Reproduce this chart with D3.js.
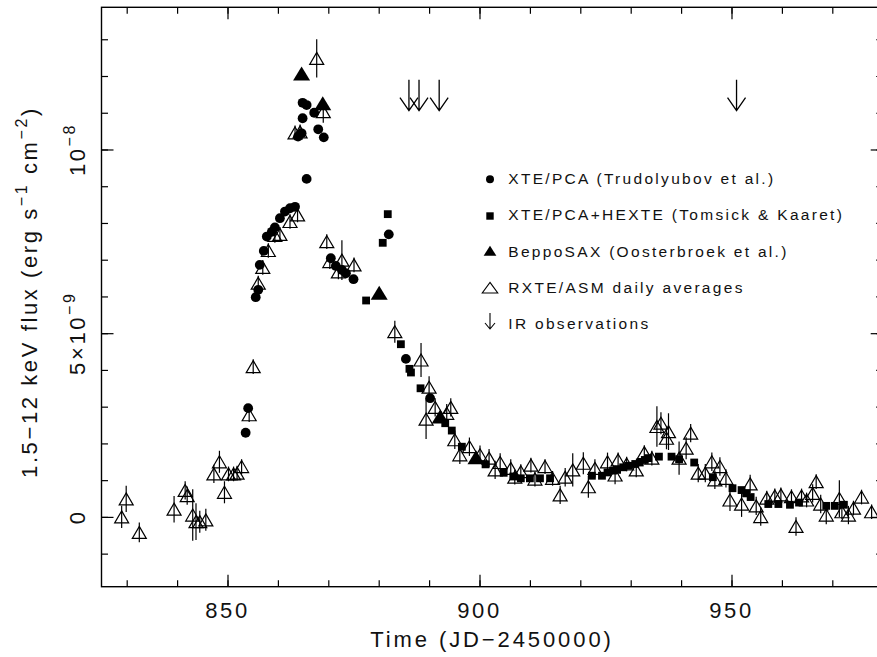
<!DOCTYPE html>
<html>
<head>
<meta charset="utf-8" />
<script src="https://d3js.org/d3.v7.min.js"></script>
<style>
  body { margin: 0; background: #fff; }
  text { font-family: "Liberation Sans", Arial, sans-serif; fill: #111; }
  .tick line { stroke: #000; stroke-width: 1.2px; }
</style>
</head>
<body>
<svg width="877" height="657"></svg>
<script>
// flux in units of 1e-9 erg/s/cm2, time in JD-2450000

// XTE/PCA (Trudolyubov et al.)
var pcaT = [853.6, 854.1, 855.6, 856.1, 856.4, 857.2, 857.8, 858.8, 859.4, 860.4, 861.4, 862.4, 863.4,
  864.0, 864.7, 864.9, 864.9, 865.7, 865.7, 867.2, 868.0, 869.1, 870.5, 871.5, 872.7, 873.5, 875.0,
  882.0, 885.4, 890.2];
var pcaF = [2.29, 2.96, 5.98, 6.18, 6.86, 7.24, 7.63, 7.76, 7.88, 8.13, 8.31, 8.40, 8.44,
  10.35, 10.44, 10.85, 11.27, 11.21, 9.2, 11.0, 10.55, 10.33, 7.04, 6.83, 6.72, 6.63, 6.47,
  7.69, 4.3, 3.23];

// XTE/PCA+HEXTE (Tomsick & Kaaret)
var hexT = [877.5, 880.8, 881.8, 884.4, 886.1, 886.4, 888.3, 893.2, 894.5, 896.5, 901.2, 904.8, 906.7,
  908.2, 910.0, 912.0, 914.0, 922.3, 924.3, 925.4, 926.5, 927.3, 928.5, 929.5, 930.9, 931.8, 932.8,
  933.5, 935.6, 938.1, 939.6, 942.6, 946.3, 950.2, 952.0, 952.9, 953.8, 957.3, 959.3, 961.6, 963.4,
  968.8, 970.5, 972.3];
var hexF = [5.89, 7.46, 8.24, 4.7, 4.03, 3.93, 3.50, 2.55, 2.35, 1.91, 1.43, 1.2, 1.10,
  1.05, 1.05, 1.05, 1.05, 1.12, 1.12, 1.21, 1.26, 1.28, 1.35, 1.39, 1.44, 1.48, 1.55,
  1.6, 1.64, 1.64, 1.57, 1.48, 1.08, 0.78, 0.73, 0.64, 0.54, 0.35, 0.35, 0.33, 0.39,
  0.3, 0.3, 0.33];

// BeppoSAX (Oosterbroek et al.)
var saxT = [864.7, 868.9, 880.1, 892.2, 899.3];
var saxF = [12.07, 11.26, 6.1, 2.73, 1.62];

// RXTE/ASM daily averages
var asmT = [829.0, 829.9, 832.5, 839.4, 841.6, 842.0, 843.1, 843.75, 844.5, 845.7, 847.3, 848.4, 849.4,
  850.2, 851.2, 851.9, 852.8, 854.3, 855.1, 856.1, 857.0, 858.1, 859.4, 860.4, 862.4, 863.9, 863.4,
  864.4, 867.7, 869.0, 869.7, 870.3, 872.0, 872.7, 875.1, 883.2, 888.4, 890.0, 889.4, 891.2, 893.5,
  894.3, 895.1, 896.1, 898.0, 900.1, 901.9, 903.1, 904.1, 906.2, 907.0, 908.2, 910.2, 911.0, 913.0,
  914.5, 916.0, 917.0, 918.5, 920.6, 921.6, 922.9, 925.4, 926.9, 927.5, 929.2, 931.1, 932.7, 934.2,
  935.2, 936.0, 937.5, 937.1, 939.6, 941.0, 941.9, 943.4, 944.8, 946.1, 946.7, 947.7, 948.9, 949.7,
  952.0, 953.7, 954.9, 955.8, 957.0, 958.6, 959.8, 961.9, 962.8, 963.9, 964.9, 966.1, 966.8, 967.7,
  968.8, 971.4, 971.9, 973.2, 974.2, 975.8, 977.8];
var asmF = [0.0, 0.49, -0.42, 0.21, 0.72, 0.58, 0.05, -0.13, -0.13, -0.08, 1.17, 1.5, 0.67,
  1.17, 1.17, 1.19, 1.37, 2.78, 4.09, 6.36, 6.79, 7.25, 7.66, 7.69, 8.04, 8.22, 10.45,
  10.48, 12.48, 11.03, 7.49, 6.95, 6.67, 6.99, 6.86, 5.04, 4.27, 3.53, 2.66, 2.98, 2.82,
  2.98, 2.1, 1.69, 1.91, 1.69, 1.6, 1.28, 1.48, 1.32, 1.08, 1.23, 1.41, 1.03, 1.37,
  1.05, 0.6, 1.08, 1.28, 1.46, 0.82, 1.32, 1.5, 1.14, 1.55, 1.44, 1.28, 1.75, 1.6,
  2.46, 2.55, 2.32, 2.14, 1.6, 1.87, 2.28, 1.19, 1.19, 1.5, 1.01, 1.37, 1.05, 0.46,
  0.35, 0.9, 0.3, 0.01, 0.51, 0.57, 0.6, 0.55, -0.26, 0.57, 0.46, 0.64, 0.96, 0.35,
  0.05, 0.5, 0.14, 0.05, 0.24, 0.54, 0.14];
var asmE = [0.3, 0.36, 0.27, 0.36, 0.25, 0.25, 0.7, 0.5, 0.3, 0.3, 0.25, 0.3, 0.3,
  0.2, 0.2, 0.2, 0.2, 0.2, 0.2, 0.2, 0.2, 0.2, 0.2, 0.2, 0.2, 0.2, 0.2,
  0.2, 0.52, 0.3, 0.2, 0.2, 0.2, 0.54, 0.2, 0.3, 0.46, 0.3, 0.54, 0.25, 0.25,
  0.25, 0.25, 0.25, 0.25, 0.25, 0.25, 0.25, 0.25, 0.25, 0.2, 0.2, 0.2, 0.2, 0.2,
  0.2, 0.25, 0.25, 0.45, 0.3, 0.3, 0.25, 0.25, 0.25, 0.2, 0.2, 0.2, 0.2, 0.2,
  0.55, 0.3, 0.5, 0.3, 0.45, 0.3, 0.25, 0.25, 0.25, 0.25, 0.25, 0.25, 0.25, 0.3,
  0.35, 0.25, 0.25, 0.25, 0.2, 0.2, 0.2, 0.2, 0.25, 0.2, 0.2, 0.25, 0.2, 0.25,
  0.25, 0.5, 0.2, 0.25, 0.2, 0.2, 0.2];

// IR observation dates
var irT = [886.0, 888.0, 892.0, 951.0];

var legendLabels = ["XTE/PCA (Trudolyubov et al.)", "XTE/PCA+HEXTE (Tomsick & Kaaret)",
  "BeppoSAX (Oosterbroek et al.)", "RXTE/ASM daily averages", "IR observations"];

var xMajor = [850, 900, 950];
var xMinor = d3.range(830, 980, 10);
var yMajor = [0, 5, 10];
var yMinor = d3.range(-1, 14, 1);

var svg = d3.select("svg");
var L = 101.5, R = 882.7, T = 7.3, B = 586.7;

var x = d3.scaleLinear().domain([825, 980]).range([L, R]);
var y = d3.scaleLinear().domain([-1.9, 13.87]).range([B, T]);

svg.append("rect").attr("width", 877).attr("height", 657).attr("fill", "#fff");

// ticks on all four sides, pointing in
function ticks(axis, vals, size, tr) {
  var g = svg.append("g").attr("transform", tr)
    .call(axis.tickValues(vals).tickSize(-size).tickFormat(""));
  g.select(".domain").remove();
  g.selectAll("text").remove();
}
ticks(d3.axisBottom(x), xMinor, 6.5, "translate(0," + B + ")");
ticks(d3.axisBottom(x), xMajor, 12, "translate(0," + B + ")");
ticks(d3.axisTop(x), xMinor, 6.5, "translate(0," + T + ")");
ticks(d3.axisTop(x), xMajor, 12, "translate(0," + T + ")");
ticks(d3.axisLeft(y), yMinor, 6.5, "translate(" + L + ",0)");
ticks(d3.axisLeft(y), yMajor, 12, "translate(" + L + ",0)");
ticks(d3.axisRight(y), yMinor, 6.5, "translate(" + R + ",0)");
ticks(d3.axisRight(y), yMajor, 12, "translate(" + R + ",0)");

svg.append("rect")
  .attr("x", L).attr("y", T).attr("width", R - L).attr("height", B - T)
  .attr("fill", "none").attr("stroke", "#000").attr("stroke-width", 1.4);

// tick labels
svg.selectAll(".xlab").data(xMajor).enter().append("text")
  .attr("x", function(d) { return x(d); }).attr("y", 618)
  .attr("text-anchor", "middle").style("font-size", "22px").style("letter-spacing", "2.6px")
  .text(function(d) { return d; });

var yLab = svg.selectAll(".ylab").data(yMajor).enter().append("text")
  .attr("transform", function(d) { return "translate(85," + y(d) + ") rotate(-90)"; })
  .attr("text-anchor", "middle").style("font-size", "22px").style("letter-spacing", "2.6px");
yLab.each(function(d) {
  var t = d3.select(this);
  if (d === 0) { t.text("0"); return; }
  if (d === 5) t.append("tspan").text("5×10");
  else t.append("tspan").text("10");
  t.append("tspan").attr("dy", -10).style("font-size", "16px").text(d === 5 ? "−9" : "−8");
});

// axis titles
svg.append("text").attr("x", 492).attr("y", 647).attr("text-anchor", "middle")
  .style("font-size", "22px").style("letter-spacing", "2.9px")
  .text("Time (JD−2450000)");

var yt = svg.append("text").attr("transform", "translate(37,292) rotate(-90)")
  .attr("text-anchor", "middle").style("font-size", "22px").style("letter-spacing", "2.6px");
yt.append("tspan").text("1.5−12 keV flux (erg s");
yt.append("tspan").attr("dy", -10).style("font-size", "16px").text("−1");
yt.append("tspan").attr("dy", 10).text(" cm");
yt.append("tspan").attr("dy", -10).style("font-size", "16px").text("−2");
yt.append("tspan").attr("dy", 10).text(")");

// marker shapes
function tri(w, h) {
  return "M0," + (-h / 2) + "L" + (w / 2) + "," + (h / 2) + "L" + (-w / 2) + "," + (h / 2) + "Z";
}
function arrow(len, hw, hh) {
  return "M0,0V" + len + "M" + (-hw) + "," + (len - hh) + "L0," + len + "L" + hw + "," + (len - hh);
}

var plot = svg.append("g");

// ASM: error bars + open triangles
var asm = asmT.map(function(t, i) { return {t: t, f: asmF[i], e: asmE[i]}; });
plot.selectAll(".err").data(asm).enter().append("line")
  .attr("x1", function(d) { return x(d.t); }).attr("x2", function(d) { return x(d.t); })
  .attr("y1", function(d) { return y(d.f + d.e); }).attr("y2", function(d) { return y(d.f - d.e); })
  .attr("stroke", "#000").attr("stroke-width", 1.2);
plot.selectAll(".asm").data(asm).enter().append("path")
  .attr("d", tri(14, 12))
  .attr("transform", function(d) { return "translate(" + x(d.t) + "," + y(d.f) + ")"; })
  .attr("fill", "none").attr("stroke", "#000").attr("stroke-width", 1.2);

plot.selectAll(".pca").data(pcaT).enter().append("circle")
  .attr("cx", function(d) { return x(d); })
  .attr("cy", function(d, i) { return y(pcaF[i]); })
  .attr("r", 4.9).attr("fill", "#000");

plot.selectAll(".hex").data(hexT).enter().append("rect")
  .attr("x", function(d) { return x(d) - 3.9; })
  .attr("y", function(d, i) { return y(hexF[i]) - 3.9; })
  .attr("width", 7.8).attr("height", 7.8).attr("fill", "#000");

plot.selectAll(".sax").data(saxT).enter().append("path")
  .attr("d", tri(17, 14))
  .attr("transform", function(d, i) { return "translate(" + x(d) + "," + y(saxF[i]) + ")"; })
  .attr("fill", "#000");

// IR arrows
plot.selectAll(".ir").data(irT).enter().append("path")
  .attr("d", arrow(31, 9, 13))
  .attr("transform", function(d) { return "translate(" + x(d) + "," + y(11.9) + ")"; })
  .attr("fill", "none").attr("stroke", "#000").attr("stroke-width", 1.3);

// legend
var lx = 490, ly = [179.3, 216, 250.7, 287.7, 313];
var leg = svg.append("g");
leg.append("circle").attr("cx", lx).attr("cy", ly[0]).attr("r", 4).attr("fill", "#000");
leg.append("rect").attr("x", lx - 3.7).attr("y", ly[1] - 3.7).attr("width", 7.4).attr("height", 7.4).attr("fill", "#000");
leg.append("path").attr("d", tri(12.7, 10)).attr("transform", "translate(" + lx + "," + ly[2] + ")").attr("fill", "#000");
leg.append("path").attr("d", tri(15.5, 10.7)).attr("transform", "translate(" + lx + "," + ly[3] + ")")
  .attr("fill", "none").attr("stroke", "#000").attr("stroke-width", 1.1);
leg.append("path").attr("d", arrow(16, 5, 6)).attr("transform", "translate(" + lx + "," + ly[4] + ")")
  .attr("fill", "none").attr("stroke", "#000").attr("stroke-width", 1.1);

leg.selectAll(".lt").data(legendLabels).enter().append("text")
  .attr("x", 508.3)
  .attr("y", function(d, i) { return 184 + i * 36.3; })
  .style("font-size", "15.5px").style("letter-spacing", "2.3px")
  .text(function(d) { return d; });
</script>
</body>
</html>
